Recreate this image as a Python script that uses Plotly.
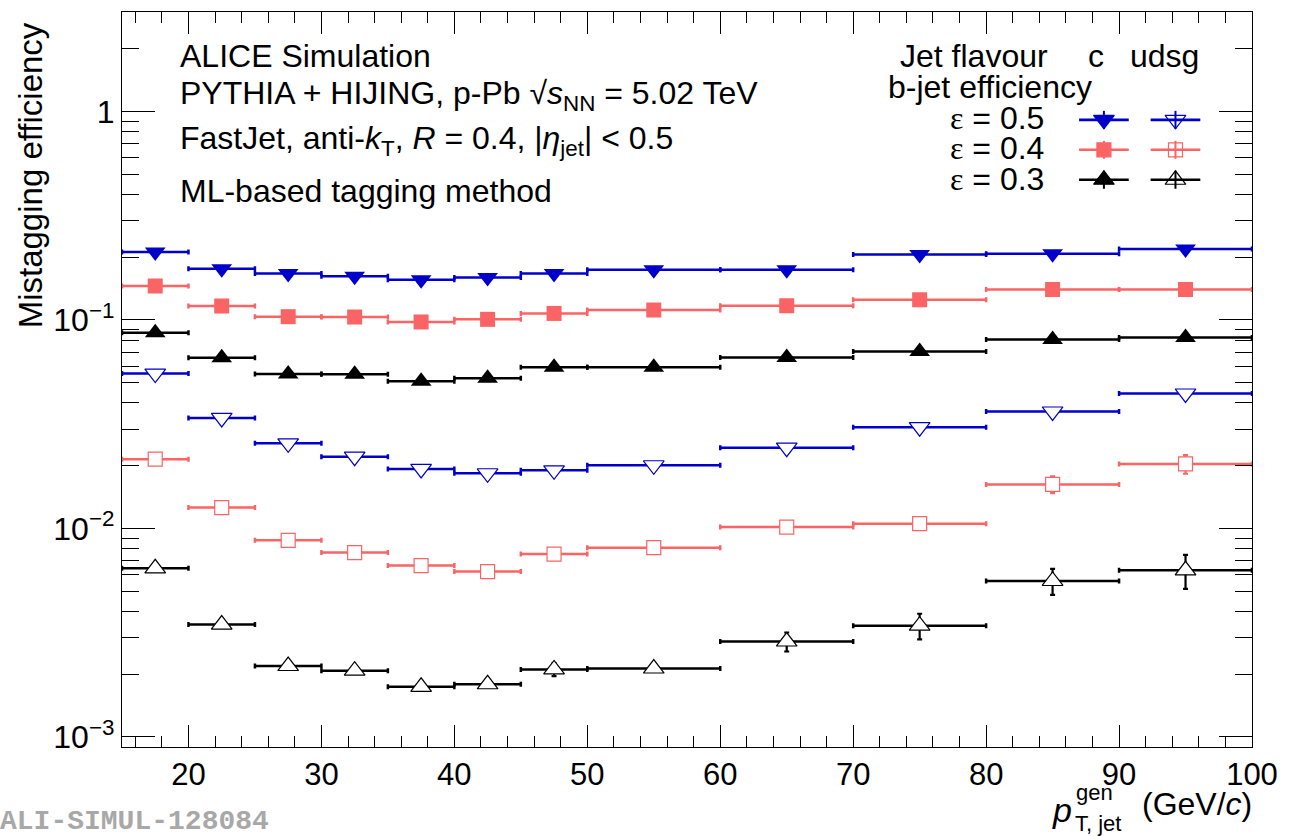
import plotly.graph_objects as go

# ---- binning in generated jet pT (GeV/c) ----
bin_lo = [15, 20, 25, 30, 35, 40, 45, 50, 60, 70, 80, 90]
bin_hi = [20, 25, 30, 35, 40, 45, 50, 60, 70, 80, 90, 100]

# ---- mistagging efficiencies: c jets ----
c_eff50 = [0.212, 0.176, 0.167, 0.162, 0.156, 0.160, 0.167, 0.174, 0.174, 0.206, 0.208, 0.219]
c_eff40 = [0.1455, 0.1167, 0.1037, 0.1033, 0.0978, 0.1007, 0.1075, 0.1116, 0.117, 0.125, 0.140, 0.140]
c_eff30 = [0.0869, 0.0658, 0.0551, 0.0549, 0.0508, 0.0525, 0.0593, 0.0593, 0.066, 0.0705, 0.0805, 0.0823]

# ---- mistagging efficiencies: udsg jets ----
udsg_eff50 = [0.0553, 0.0339, 0.0256, 0.0221, 0.0193, 0.0184, 0.0190, 0.0201, 0.0244, 0.0306, 0.0364, 0.0444]
udsg_eff40 = [0.0215, 0.0126, 0.00877, 0.00766, 0.00664, 0.00621, 0.00754, 0.00809, 0.01016, 0.01055, 0.01626, 0.0204]
udsg_eff30 = [0.00644, 0.00346, 0.00219, 0.00208, 0.00174, 0.00179, 0.00211, 0.00213, 0.00287, 0.00342, 0.00560, 0.00630]

# ---- statistical uncertainties (only visible ones) ----
zero_err = [0] * 12
udsg_err40 = [0, 0, 0, 0, 0, 0, 0, 0, 0, 0, 0.0015, 0.0021]
udsg_err30 = [0, 0, 0, 0, 0, 0, 0.00015, 0, 0.0003, 0.00048, 0.0008, 0.00117]

# ---- axis ticks ----
x_tickvals = [20, 30, 40, 50, 60, 70, 80, 90, 100]
y_tickvals = [1e-3, 1e-2, 1e-1, 1]
y_ticktext = ["10<sup>\u22123</sup>", "10<sup>\u22122</sup>", "10<sup>\u22121</sup>", "1"]

BLUE = "#0000c8"
RED = "#fa6464"
BLACK = "#000000"
FONT = "Liberation Sans"

W, H = 1289, 836
L, R, T, B = 122, 1259, 11, 747

centers = [(a + b) / 2 for a, b in zip(bin_lo, bin_hi)]
half_w = [(b - a) / 2 for a, b in zip(bin_lo, bin_hi)]


def px(xp):
    return (xp - L) / (R - L)


def py(yp):
    return (B - yp) / (B - T)


fig = go.Figure()


def add_series(vals, errs, color, symbol, size, hollow):
    fig.add_trace(go.Scatter(
        x=centers, y=vals, mode="markers",
        marker=dict(symbol=symbol, size=size,
                    color="white" if hollow else color,
                    line=dict(color=color, width=1.2 if hollow else 0)),
        error_x=dict(type="data", array=half_w, color=color, thickness=2.5, width=2.5),
        error_y=dict(type="data", array=errs, color=color, thickness=2.2, width=2.5),
        showlegend=False, cliponaxis=False,
    ))


TRI = 18
SQ = 15
add_series(c_eff50, zero_err, BLUE, "triangle-down", TRI, False)
add_series(c_eff40, zero_err, RED, "square", SQ, False)
add_series(c_eff30, zero_err, BLACK, "triangle-up", TRI, False)
add_series(udsg_eff50, zero_err, BLUE, "triangle-down", TRI, True)
add_series(udsg_eff40, udsg_err40, RED, "square", SQ - 1, True)
add_series(udsg_eff30, udsg_err30, BLACK, "triangle-up", TRI, True)

# ---- legend keys drawn on an auxiliary unit-square axis ----
legend_rows = [(119, BLUE, "triangle-down", TRI), (149, RED, "square", SQ - 1), (179, BLACK, "triangle-up", TRI)]
for yk, col, sym, sz in legend_rows:
    for (x0, x1, xm, hollow) in [(1085, 1135, 1110, False), (1157, 1207, 1182, True)]:
        fig.add_trace(go.Scatter(
            x=[px(x0), px(x1)], y=[py(yk), py(yk)], mode="lines",
            line=dict(color=col, width=2.6), xaxis="x2", yaxis="y2",
            showlegend=False, hoverinfo="skip"))
        fig.add_trace(go.Scatter(
            x=[px(xm), px(xm)], y=[py(yk - 9), py(yk + 9)], mode="lines",
            line=dict(color=col, width=2), xaxis="x2", yaxis="y2",
            showlegend=False, hoverinfo="skip"))
        fig.add_trace(go.Scatter(
            x=[px(xm)], y=[py(yk)], mode="markers",
            marker=dict(symbol=sym + ("-open" if hollow else ""), size=sz, color=col,
                        line=dict(color=col, width=1.2)),
            xaxis="x2", yaxis="y2", showlegend=False, hoverinfo="skip"))

annotations = []


def text(s, x, y, size=32, xanchor="left", yanchor="middle", color="black", family=FONT, angle=0):
    annotations.append(dict(
        text=s, x=px(x), y=py(y), xref="paper", yref="paper",
        xanchor=xanchor, yanchor=yanchor, showarrow=False, textangle=angle,
        font=dict(size=size, color=color, family=family)))


# header block
text("ALICE Simulation", 178, 55)
text("PYTHIA + HIJING, p-Pb \u221a<i>s</i><sub>NN</sub> = 5.02 TeV", 178, 95)
text("FastJet, anti-<i>k</i><sub>T</sub>, <i>R</i> = 0.4, |<i>\u03b7</i><sub>jet</sub>| &lt; 0.5", 178, 140)
text("ML-based tagging method", 178, 190)

# legend header and row labels
text("Jet flavour", 903, 55)
text("c", 1102, 55, xanchor="center")
text("udsg", 1171, 55, xanchor="center")
text("b-jet efficiency", 891, 86)
eps = "<span style='font-family:Liberation Serif'>\u03b5</span>"
text(eps + " = 0.5", 1052, 117, xanchor="right")
text(eps + " = 0.4", 1052, 147, xanchor="right")
text(eps + " = 0.3", 1052, 178, xanchor="right")

# axis titles
text("Mistagging efficiency", 30, 175, size=33, xanchor="center", angle=-90)
text("<i>p</i>", 1068, 810, size=34, xanchor="center")
text("gen", 1101, 793, size=22, xanchor="center")
text("T, jet", 1104, 824, size=22, xanchor="center")
text("(GeV/<i>c</i>)", 1261, 804, xanchor="right")

# record tag
text("<b>ALI-SIMUL-128084</b>", 272, 822, size=28, xanchor="right", color="#a8a8a8",
     family="Liberation Mono")

minor_y = [m * 10 ** e for e in (-4, -3, -2, -1, 0) for m in range(2, 10)]

fig.update_layout(
    width=W, height=H,
    margin=dict(l=L, r=W - R, t=T, b=H - B, pad=0),
    paper_bgcolor="white", plot_bgcolor="white",
    font=dict(family=FONT, size=31, color="black"),
    annotations=annotations,
    xaxis=dict(
        range=[15, 100], tickmode="array", tickvals=x_tickvals,
        ticks="inside", ticklen=22, tickwidth=1.2, tickcolor="black",
        showline=True, linecolor="black", linewidth=1.3, mirror="ticks",
        showgrid=False, zeroline=False, ticklabeloverflow="allow",
        tickfont=dict(size=31, family=FONT),
        minor=dict(tick0=0, dtick=2, ticks="inside", ticklen=11, tickwidth=1.1,
                   tickcolor="black", showgrid=False),
    ),
    yaxis=dict(
        type="log", range=[-3.048, 0.477], tickmode="array",
        tickvals=y_tickvals, ticktext=y_ticktext,
        ticks="inside", ticklen=33, tickwidth=1.2, tickcolor="black",
        showline=True, linecolor="black", linewidth=1.3, mirror="ticks",
        showgrid=False, zeroline=False, ticklabeloverflow="allow",
        tickfont=dict(size=32, family=FONT),
        minor=dict(tickmode="array", tickvals=minor_y, ticks="inside", ticklen=17,
                   tickwidth=1.1, tickcolor="black", showgrid=False),
    ),
    xaxis2=dict(overlaying="x", range=[0, 1], visible=False, fixedrange=True),
    yaxis2=dict(overlaying="y", range=[0, 1], visible=False, fixedrange=True),
    showlegend=False,
)

fig.write_html("out.html")
